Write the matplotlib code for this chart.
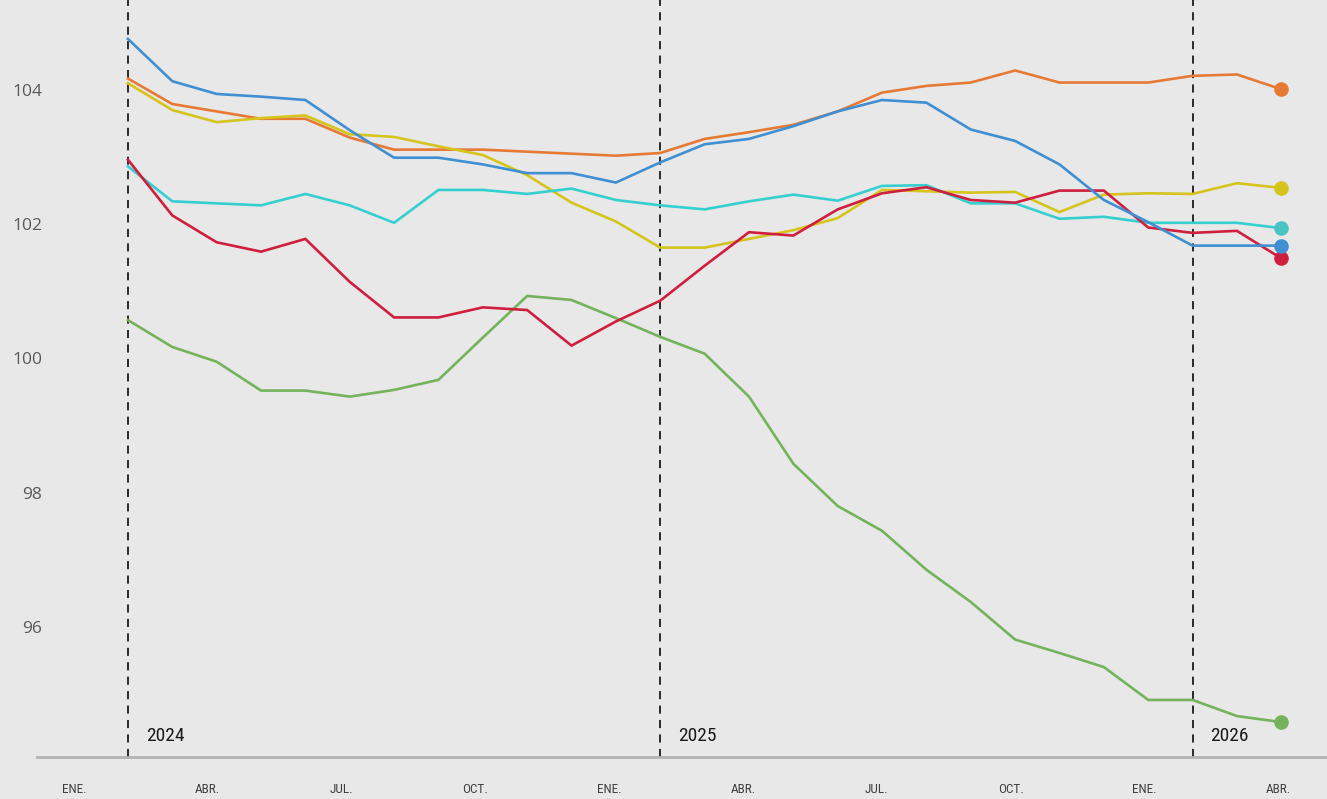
import matplotlib
matplotlib.use("Agg")
from matplotlib import pyplot as plt
from matplotlib import font_manager
import numpy as np

# monthly index values, 27 points (2024 -> 2026)
blue = [104.76, 104.13, 103.94, 103.90, 103.85, 103.40, 102.99, 102.99, 102.89,
        102.76, 102.76, 102.62, 102.92, 103.19, 103.27, 103.46, 103.68, 103.85,
        103.81, 103.41, 103.24, 102.89, 102.36, 102.03, 101.68, 101.68, 101.68]
orange = [104.17, 103.79, 103.68, 103.57, 103.57, 103.29, 103.11, 103.11, 103.11,
          103.08, 103.05, 103.02, 103.06, 103.27, 103.37, 103.48, 103.68, 103.96,
          104.06, 104.11, 104.29, 104.11, 104.11, 104.11, 104.21, 104.23, 104.01]
yellow = [104.10, 103.70, 103.52, 103.58, 103.62, 103.34, 103.30, 103.16, 103.03,
          102.73, 102.32, 102.04, 101.65, 101.65, 101.78, 101.91, 102.09, 102.51,
          102.49, 102.47, 102.48, 102.18, 102.44, 102.46, 102.45, 102.61, 102.54]
cyan = [102.86, 102.34, 102.31, 102.28, 102.45, 102.28, 102.02, 102.51, 102.51,
        102.45, 102.53, 102.36, 102.28, 102.22, 102.34, 102.44, 102.35, 102.57,
        102.58, 102.31, 102.31, 102.08, 102.11, 102.02, 102.02, 102.02, 101.94]
red = [102.96, 102.13, 101.73, 101.59, 101.78, 101.14, 100.61, 100.61, 100.76,
       100.72, 100.19, 100.55, 100.86, 101.38, 101.88, 101.83, 102.22, 102.46,
       102.55, 102.36, 102.32, 102.50, 102.50, 101.95, 101.87, 101.90, 101.49]
green = [100.57, 100.17, 99.95, 99.52, 99.52, 99.43, 99.53, 99.68, 100.31,
         100.93, 100.87, 100.60, 100.32, 100.07, 99.43, 98.43, 97.80, 97.43,
         96.85, 96.37, 95.81, 95.61, 95.40, 94.91, 94.91, 94.67, 94.58]

years = ['2024', '2025', '2026']
year_starts = [0, 12, 24]
month_labels = ['ENE.', 'ABR.', 'JUL.', 'OCT.'] * 2 + ['ENE.', 'ABR.']
y_ticks = [96, 98, 100, 102, 104]

series = [
    (green, '#74b35b', '#74b35b'),
    (orange, '#e67a35', '#e67a35'),
    (yellow, '#d5c41c', '#d5c41c'),
    (cyan, '#36cfcf', '#48c4c4'),
    (red, '#cf1e3e', '#cf1e3e'),
    (blue, '#3f8fd2', '#3f8fd2'),
]


def pick_font(names):
    for name in names:
        try:
            font_manager.findfont(name, fallback_to_default=False)
            return name
        except ValueError:
            continue
    return 'DejaVu Sans'


narrow = pick_font(['Liberation Sans Narrow', 'Roboto Condensed', 'Liberation Sans'])
plain = pick_font(['Open Sans', 'DejaVu Sans'])

bg = '#e8e8e8'
fig = plt.figure(figsize=(13.27, 7.99), dpi=100, facecolor=bg)
ax = fig.add_axes([37 / 1327, 42 / 799, 1 - 37 / 1327, 757 / 799])
ax.set_facecolor(bg)

x = np.arange(len(green))
for vals, col, dot_col in series:
    ax.plot(x, vals, color=col, lw=1.9, solid_joinstyle='miter', zorder=3)
    ax.plot(x[-1], vals[-1], 'o', color=dot_col, markersize=10.5,
            markeredgewidth=0, zorder=4)

for start, yr in zip(year_starts, years):
    ax.axvline(start, color='#1a1a1a', lw=1.3, ls=(0, (4.5, 3.5)), zorder=2)
    ax.text(start + 0.4, 94.37, yr, fontsize=14, family=narrow,
            color='#1a1a1a', va='center', ha='left')

ax.set_xlim(-2.05, 27.03)
ax.set_ylim(94.06, 105.34)

ax.set_yticks(y_ticks)
ax.set_yticklabels([str(v) for v in y_ticks], family=plain, fontsize=12.5,
                   color='#595959')
ax.tick_params(axis='y', length=0, pad=0)
for lab in ax.get_yticklabels():
    lab.set_horizontalalignment('right')
    lab.set_x(0.004)

tick_pos = -1.22 + 3.017 * np.arange(len(month_labels))
ax.set_xticks(tick_pos)
ax.set_xticklabels(month_labels, family=narrow, fontsize=9.5, color='#404040')
ax.tick_params(axis='x', length=0, pad=19)

for side in ['top', 'right', 'left']:
    ax.spines[side].set_visible(False)
ax.spines['bottom'].set_color('#b3b3b3')
ax.spines['bottom'].set_linewidth(2)

fig.savefig('out.png', dpi=100, facecolor=bg)
